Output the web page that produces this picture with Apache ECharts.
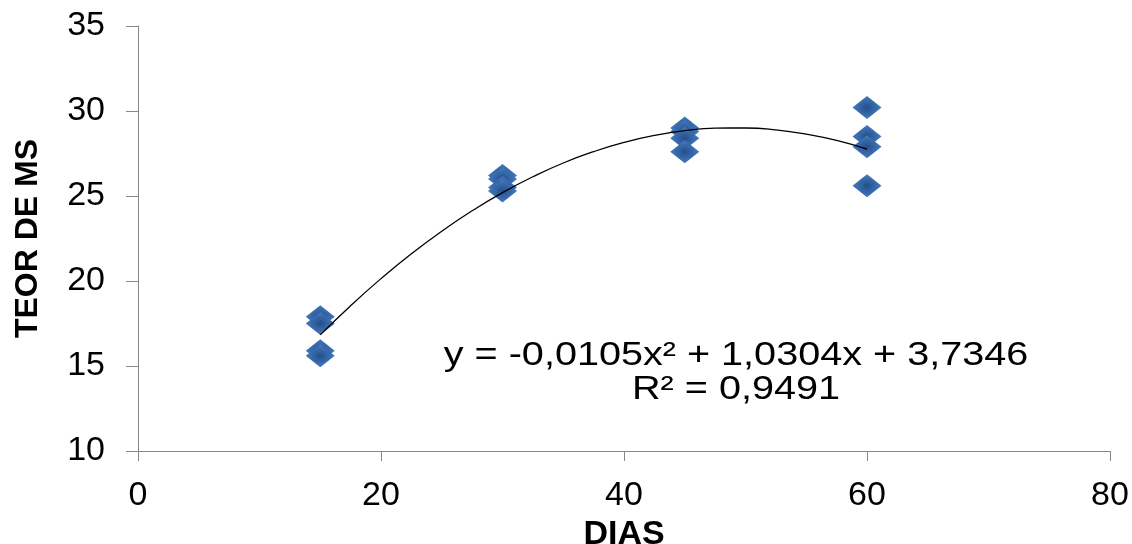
<!DOCTYPE html>
<html lang="pt">
<head>
    <meta charset="UTF-8">
    <title>Teor de MS x Dias</title>
    <script src="https://cdn.jsdelivr.net/npm/echarts@6/dist/echarts.min.js"></script>
    <style>
        html, body { margin: 0; padding: 0; background: #fff; }
        #chart { width: 1132px; height: 544px; }
    </style>
</head>
<body>
    <div id="chart"></div>
    <script>
        // dados
        const dias = [15, 15, 15, 15, 30, 30, 30, 30, 45, 45, 45, 45, 60, 60, 60, 60];
        const teorMS = [17.9, 17.5, 15.9, 15.6, 26.2, 26.0, 25.5, 25.3, 29.0, 28.8, 28.4, 27.6, 30.2, 28.5, 27.9, 25.6];
        // linha de tendência (polinomial)
        const trendX = [15, 17.5, 20, 22.5, 25, 27.5, 30, 32.5, 35, 37.5, 40, 42.5, 45, 47.5, 50, 52.5, 55, 57.5, 60];
        const trendY = [16.83, 18.55, 20.14, 21.60, 22.93, 24.13, 25.20, 26.13, 26.94, 27.61, 28.15, 28.56, 28.84, 28.99, 29.00, 28.89, 28.64, 28.27, 27.76];
        const equacao = 'y = -0,0105x² + 1,0304x + 3,7346';
        const r2 = 'R² = 0,9491';

        const chart = echarts.init(document.getElementById('chart'));
        const font = 'Liberation Sans, Arial, sans-serif';

        chart.setOption({
            animation: false,
            grid: { left: 138, right: 22, top: 26, bottom: 93, outerBoundsMode: 'none' },
            xAxis: {
                type: 'value', min: 0, max: 80, interval: 20,
                name: 'DIAS', nameLocation: 'middle', nameGap: 67,
                nameTextStyle: { fontFamily: font, fontSize: 34, fontWeight: 'bold', color: '#000' },
                axisLine: { lineStyle: { color: '#888', width: 1 } },
                axisTick: { inside: false, length: 10, lineStyle: { color: '#888' } },
                axisLabel: { fontFamily: font, fontSize: 34, color: '#000', margin: 28 },
                splitLine: { show: false }
            },
            yAxis: {
                type: 'value', min: 10, max: 35, interval: 5,
                name: 'TEOR DE MS', nameLocation: 'middle', nameGap: 94, nameRotate: 90,
                nameTextStyle: { fontFamily: font, fontSize: 32, fontWeight: 'bold', color: '#000' },
                axisLine: { show: true, onZero: false, lineStyle: { color: '#888', width: 1 } },
                axisTick: { show: true, length: 12, lineStyle: { color: '#888' } },
                axisLabel: { fontFamily: font, fontSize: 34, color: '#000', margin: 33 },
                splitLine: { show: false }
            },
            series: [
                {
                    type: 'line',
                    data: trendX.map((x, i) => [x, trendY[i]]),
                    smooth: true,
                    showSymbol: false,
                    lineStyle: { color: '#000', width: 1.3 },
                    z: 3
                },
                {
                    type: 'scatter',
                    data: dias.map((x, i) => [x, teorMS[i]]),
                    symbol: 'diamond',
                    symbolSize: [29, 23],
                    itemStyle: {
                        color: {
                            type: 'radial', x: 0.5, y: 0.5, r: 0.6,
                            colorStops: [
                                { offset: 0, color: '#23508c' },
                                { offset: 1, color: '#4c82c8' }
                            ]
                        },
                        opacity: 1
                    },
                    z: 2
                }
            ],
            graphic: [
                {
                    type: 'text', x: 736, y: 356, scaleX: 1.2,
                    style: { text: equacao, font: '33px ' + font, fill: '#000', align: 'center', verticalAlign: 'middle' }
                },
                {
                    type: 'text', x: 736, y: 390, scaleX: 1.2,
                    style: { text: r2, font: '33px ' + font, fill: '#000', align: 'center', verticalAlign: 'middle' }
                }
            ]
        });
    </script>
</body>
</html>
